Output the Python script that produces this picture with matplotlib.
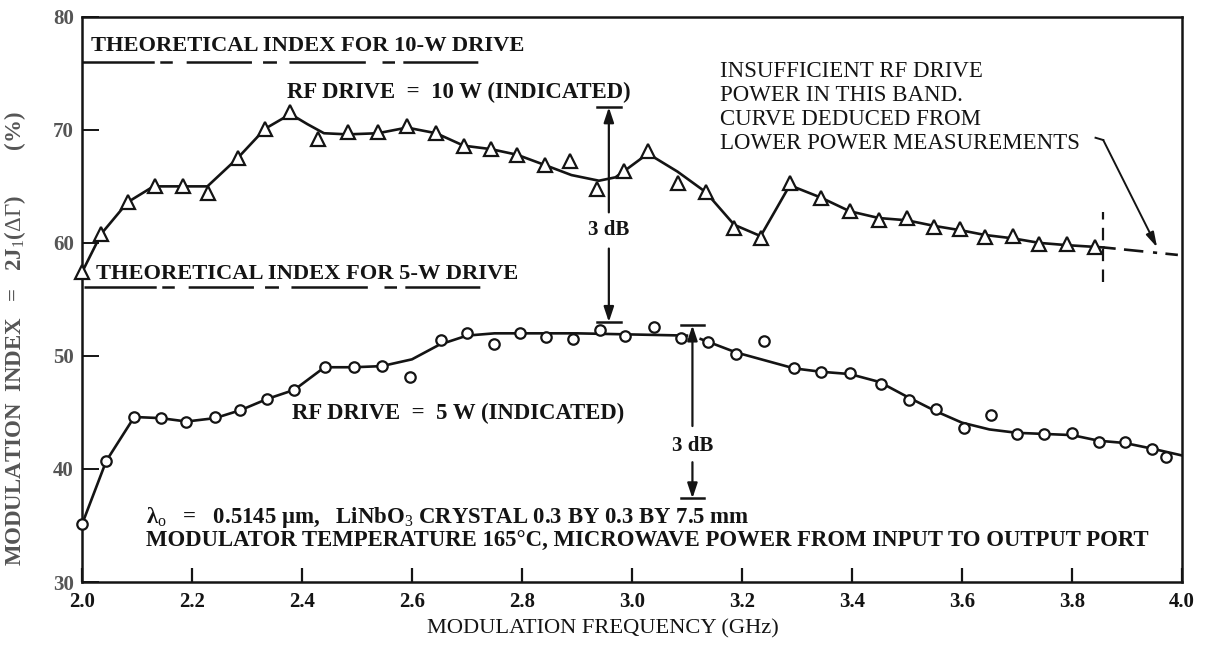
import matplotlib
matplotlib.use("Agg")
import matplotlib.pyplot as plt

# ---- data ----
# 10-W drive measurements (triangles)
freq_10w = [2.000, 2.035, 2.083, 2.132, 2.183, 2.230, 2.283, 2.333, 2.379, 2.430,
            2.483, 2.538, 2.591, 2.644, 2.694, 2.743, 2.791, 2.841, 2.888, 2.936,
            2.985, 3.029, 3.083, 3.134, 3.186, 3.234, 3.287, 3.344, 3.396, 3.449,
            3.500, 3.550, 3.596, 3.642, 3.693, 3.741, 3.791, 3.842]
index_10w = [57.4, 60.8, 63.6, 65.0, 65.0, 64.4, 67.5, 70.1, 71.6, 69.2,
             69.8, 69.8, 70.3, 69.7, 68.6, 68.3, 67.8, 66.9, 67.2, 64.8,
             66.4, 68.1, 65.3, 64.5, 61.3, 60.4, 65.3, 64.0, 62.8, 62.0,
             62.2, 61.4, 61.2, 60.5, 60.6, 59.9, 59.9, 59.6]

# hand-drawn curve through the 10-W points
curve_10w_f = [2.000, 2.035, 2.083, 2.130, 2.180, 2.228, 2.283, 2.333, 2.379, 2.410,
               2.440, 2.483, 2.538, 2.591, 2.644, 2.694, 2.743, 2.791, 2.841, 2.890,
               2.940, 2.970, 2.990, 3.029, 3.083, 3.134, 3.186, 3.234, 3.260, 3.287,
               3.344, 3.396, 3.449, 3.500, 3.550, 3.600, 3.642, 3.693, 3.741, 3.791,
               3.857]
curve_10w_i = [57.4, 60.8, 63.6, 65.0, 65.0, 65.0, 67.5, 70.1, 71.4, 70.5,
               69.7, 69.6, 69.7, 70.2, 69.7, 68.6, 68.3, 67.8, 66.9, 66.0,
               65.5, 65.8, 66.5, 67.9, 66.3, 64.5, 61.6, 60.6, 62.8, 65.1,
               64.0, 62.8, 62.2, 62.0, 61.5, 61.1, 60.7, 60.4, 60.0, 59.8,
               59.6]

# curve deduced from lower power measurements
deduced_f = [3.857, 4.000]
deduced_i = [59.6, 58.9]

# 5-W drive measurements (circles)
freq_5w = [2.000, 2.044, 2.095, 2.143, 2.190, 2.242, 2.288, 2.337, 2.386, 2.441,
           2.494, 2.545, 2.597, 2.653, 2.700, 2.750, 2.797, 2.844, 2.893, 2.942,
           2.988, 3.040, 3.089, 3.139, 3.190, 3.240, 3.295, 3.344, 3.396, 3.452,
           3.503, 3.553, 3.603, 3.652, 3.700, 3.750, 3.800, 3.849, 3.896, 3.946,
           3.972]
index_5w = [35.1, 40.7, 44.6, 44.5, 44.2, 44.6, 45.2, 46.2, 47.0, 49.0,
            49.0, 49.1, 48.1, 51.4, 52.0, 51.1, 52.0, 51.7, 51.5, 52.3,
            51.8, 52.6, 51.6, 51.2, 50.2, 51.3, 48.9, 48.6, 48.5, 47.5,
            46.1, 45.3, 43.6, 44.8, 43.1, 43.1, 43.2, 42.4, 42.4, 41.8,
            41.1]

curve_5w_a_f = [2.000, 2.044, 2.095, 2.143, 2.190, 2.242, 2.288, 2.337, 2.386, 2.441,
                2.494, 2.545, 2.600, 2.650, 2.700, 2.750, 2.800, 2.900, 3.000, 3.100]
curve_5w_a_i = [35.1, 40.7, 44.6, 44.5, 44.2, 44.5, 45.2, 46.2, 47.0, 49.0,
                49.0, 49.1, 49.7, 51.0, 51.8, 52.0, 52.0, 52.0, 51.9, 51.8]
curve_5w_b_f = [3.125, 3.190, 3.295, 3.344, 3.396, 3.450, 3.500, 3.553, 3.600, 3.650,
                3.700, 3.750, 3.800, 3.849, 3.896, 3.946, 4.000]
curve_5w_b_i = [51.5, 50.3, 48.9, 48.6, 48.4, 47.7, 46.4, 45.1, 44.1, 43.5,
                43.2, 43.1, 43.0, 42.5, 42.3, 41.8, 41.2]

x_ticks = [2.0, 2.2, 2.4, 2.6, 2.8, 3.0, 3.2, 3.4, 3.6, 3.8, 4.0]
y_ticks = [30, 40, 50, 60, 70, 80]

SERIF = ["Liberation Serif", "DejaVu Serif"]
INK = "#141414"
GREY = "#555555"

plt.rcParams["font.family"] = SERIF
plt.rcParams["mathtext.fontset"] = "custom"
plt.rcParams["mathtext.rm"] = "Liberation Serif"
plt.rcParams["mathtext.it"] = "Liberation Serif"
plt.rcParams["mathtext.bf"] = "Liberation Serif:bold"
plt.rcParams["lines.scale_dashes"] = False

fig = plt.figure(figsize=(12.06, 6.46), dpi=100)
ax = fig.add_axes([0.068, 0.099, 0.912, 0.875])

# curves and measured points
ax.plot(curve_10w_f, curve_10w_i, color=INK, lw=1.9, zorder=3)
ax.plot(deduced_f, deduced_i, color=INK, lw=1.9, dashes=(9, 6, 14, 7, 3, 6), zorder=3)
ax.plot(freq_10w, index_10w, linestyle="none", marker="^", ms=10, mfc="white",
        mec=INK, mew=1.6, zorder=4, clip_on=False)

ax.plot(curve_5w_a_f, curve_5w_a_i, color=INK, lw=1.9, zorder=3)
ax.plot(curve_5w_b_f, curve_5w_b_i, color=INK, lw=1.9, zorder=3)
ax.plot(freq_5w, index_5w, linestyle="none", marker="o", ms=7.5, mfc="white",
        mec=INK, mew=1.6, zorder=4, clip_on=False)

# end of measured band marker
ax.plot([3.857, 3.857], [56.5, 62.7], color=INK, lw=1.6, dashes=(9, 6))

# theoretical index labels with dash underline
under_dash = (52, 4, 9, 10, 47, 8, 10, 9, 55, 12, 9, 6, 54, 200)
ax.text(2.016, 77.4, "THEORETICAL INDEX FOR 10-W DRIVE", fontsize=16.2,
        fontweight="bold", color=INK, va="center", ha="left")
ax.plot([2.0, 2.727], [76.0, 76.0], color=INK, lw=1.8, dashes=under_dash)
ax.text(2.025, 57.25, "THEORETICAL INDEX FOR 5-W DRIVE", fontsize=16.2,
        fontweight="bold", color=INK, va="center", ha="left")
ax.plot([2.004, 2.737], [56.1, 56.1], color=INK, lw=1.8, dashes=under_dash)

ax.text(2.372, 73.3, "RF DRIVE  =  10 W (INDICATED)", fontsize=16.4,
        fontweight="bold", color=INK, va="center", ha="left")
ax.text(2.381, 44.9, "RF DRIVE  =  5 W (INDICATED)", fontsize=16.4,
        fontweight="bold", color=INK, va="center", ha="left")

# 3 dB markers
arrow_kw = dict(arrowstyle="-|>,head_length=0.9,head_width=0.3", color=INK,
                lw=1.6, shrinkA=0, shrinkB=0)
ax.text(2.958, 61.1, "3 dB", fontsize=15, fontweight="bold", color=INK,
        ha="center", va="center")
ax.annotate("", xy=(2.958, 72.0), xytext=(2.958, 62.7), arrowprops=arrow_kw)
ax.annotate("", xy=(2.958, 53.0), xytext=(2.958, 59.5), arrowprops=arrow_kw)
ax.plot([2.936, 2.980], [72.0, 72.0], color=INK, lw=1.8)
ax.plot([2.936, 2.980], [53.0, 53.0], color=INK, lw=1.8)

ax.text(3.110, 42.0, "3 dB", fontsize=15, fontweight="bold", color=INK,
        ha="center", va="center")
ax.annotate("", xy=(3.110, 52.7), xytext=(3.110, 43.8), arrowprops=arrow_kw)
ax.annotate("", xy=(3.110, 37.4), xytext=(3.110, 40.6), arrowprops=arrow_kw)
ax.plot([3.089, 3.131], [52.7, 52.7], color=INK, lw=1.8)
ax.plot([3.089, 3.131], [37.4, 37.4], color=INK, lw=1.8)

# note on the high-frequency end
ax.text(3.161, 76.1, "INSUFFICIENT RF DRIVE\nPOWER IN THIS BAND.\n"
        "CURVE DEDUCED FROM\nLOWER POWER MEASUREMENTS",
        fontsize=16.5, color=INK, va="top", ha="left", linespacing=1.18)
ax.plot([3.843, 3.857], [69.3, 69.1], color=INK, lw=1.4)
ax.annotate("", xy=(3.955, 59.6), xytext=(3.857, 69.1),
            arrowprops=dict(arrowstyle="-|>,head_length=0.9,head_width=0.25",
                            color=INK, lw=1.4, shrinkA=0, shrinkB=0))

# experiment conditions
ax.text(2.117, 35.7, "\u03bb$_\\mathrm{o}$   =   0.5145 \u03bcm,   LiNbO$_3$ CRYSTAL 0.3 BY 0.3 BY 7.5 mm",
        fontsize=16.4, fontweight="bold", color=INK, va="center", ha="left")
ax.text(2.117, 33.6, "MODULATOR TEMPERATURE 165\u00b0C, MICROWAVE POWER FROM INPUT TO OUTPUT PORT",
        fontsize=16.4, fontweight="bold", color=INK, va="center", ha="left")

# axes
ax.set_xlim(2.0, 4.0)
ax.set_ylim(30, 80)
ax.set_xticks(x_ticks)
ax.set_xticklabels([f"{t:.1f}" for t in x_ticks], fontsize=15, fontweight="bold")
ax.set_yticks(y_ticks)
ax.set_yticklabels([str(t) for t in y_ticks], fontsize=15, fontweight="bold")
ax.tick_params(axis="x", direction="in", length=10, width=1.6, pad=7, colors=INK)
ax.tick_params(axis="y", direction="in", length=12, width=1.4, pad=6,
               color=INK, labelcolor=GREY)
for side in ["left", "right", "top", "bottom"]:
    ax.spines[side].set_linewidth(1.8)
    ax.spines[side].set_color(INK)

ax.set_xlabel("MODULATION FREQUENCY (GHz)", fontsize=16.2, color=INK)
ax.xaxis.set_label_coords(0.474, -0.065)
ax.set_ylabel(r"MODULATION  INDEX   =   2J$_1$($\Delta\Gamma$)        (%)", fontsize=16.5,
              fontweight="bold", color=GREY)
ax.yaxis.set_label_coords(-0.049, 0.43)

fig.savefig("out.png", dpi=100)
